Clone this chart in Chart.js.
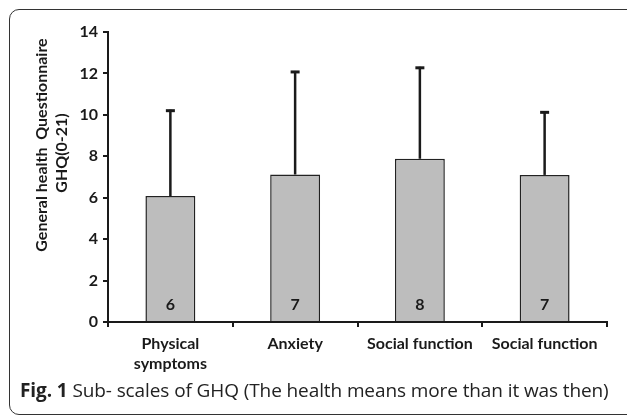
<!DOCTYPE html>
<html>
<head>
<meta charset="utf-8">
<script src="https://cdn.jsdelivr.net/npm/chart.js@4"></script>
<style>
  body { margin:0; width:627px; height:417px; overflow:hidden; background:#fff; }
  #frame { position:absolute; left:9px; top:9px; width:660px; height:404px;
           border:1.5px solid #333; border-radius:10px; }
  #wrap { position:absolute; left:0; top:0; width:627px; height:417px; }
  #cap { position:absolute; left:20px; top:377px; font:19px "Open Sans", sans-serif; color:#222; white-space:nowrap; letter-spacing:-0.1px; }
  #cap b { font-weight:700; }
</style>
</head>
<body>
<div id="frame"></div>
<div id="wrap"><canvas id="ghq"></canvas></div>
<div id="cap"><b>Fig. 1</b> Sub- scales of GHQ (The health means more than it was then)</div>
<script>
// data
var cats = [["Physical","symptoms"], "Anxiety", "Social function", "Social function"];
var means = [6.08, 7.12, 7.88, 7.1];
var sds = [4.17, 5.0, 4.44, 3.07];
var yTicks = [0, 2, 4, 6, 8, 10, 12, 14];
var yTitle = ["General health  Questionnaire", "GHQ(0-21)"];

var ink = '#1a1a1a';
var lblFont = { family: 'Lato, sans-serif', size: 16, weight: 'bold', lineHeight: 1.25 };

// error bars (upper only) + value labels inside bars
var extras = {
  id: 'extras',
  afterDatasetsDraw: function(chart) {
    var ctx = chart.ctx;
    var y = chart.scales.y;
    var meta = chart.getDatasetMeta(0);
    ctx.save();
    ctx.strokeStyle = ink;
    for (var i = 0; i < means.length; i++) {
      var bar = meta.data[i];
      var top = y.getPixelForValue(means[i] + sds[i]);
      ctx.lineWidth = 2.5;
      ctx.beginPath();
      ctx.moveTo(bar.x, bar.y);
      ctx.lineTo(bar.x, top);
      ctx.stroke();
      ctx.lineWidth = 3;
      ctx.beginPath();
      ctx.moveTo(bar.x - 4.5, top + 1);
      ctx.lineTo(bar.x + 4.5, top + 1);
      ctx.stroke();

      ctx.fillStyle = ink;
      ctx.font = 'bold 16px Lato, sans-serif';
      ctx.textAlign = 'center';
      ctx.textBaseline = 'middle';
      ctx.fillText(String(Math.round(means[i])), bar.x, y.getPixelForValue(0) - 17);
    }
    // y axis title, two lines, set a little above the middle like the figure
    var mid = (chart.chartArea.top + chart.chartArea.bottom) / 2;
    ctx.font = 'bold 16px Lato, sans-serif';
    ctx.translate(42, mid - 32);
    ctx.rotate(-Math.PI / 2);
    ctx.fillText(yTitle[0], 0, 0);
    ctx.fillText(yTitle[1], -8, 20);
    ctx.restore();
  }
};

var ghq = document.getElementById('ghq').getContext('2d');
var chart = new Chart(ghq, {
  type: 'bar',
  data: {
    labels: cats,
    datasets: [{
      data: means,
      backgroundColor: '#bdbdbd',
      borderColor: '#222',
      borderWidth: 1.5,
      categoryPercentage: 1,
      barPercentage: 0.4
    }]
  },
  options: {
    responsive: true,
    maintainAspectRatio: false,
    animation: false,
    layout: { padding: { top: 32, right: 20, bottom: 42, left: 0 } },
    plugins: { legend: { display: false }, tooltip: { enabled: false } },
    scales: {
      x: {
        grid: { drawOnChartArea: false, drawTicks: true, tickLength: 5, color: ink, lineWidth: 2 },
        border: { color: ink, width: 2 },
        ticks: { color: ink, font: lblFont, padding: 7, maxRotation: 0 },
        afterFit: function(s) { s.height = 53; }
      },
      y: {
        min: 0, max: 14,
        afterBuildTicks: function(s) { s.ticks = yTicks.map(function(v){ return { value: v }; }); },
        grid: { drawOnChartArea: false, drawTicks: true, tickLength: 5, color: ink, lineWidth: 2 },
        border: { color: ink, width: 2 },
        ticks: { color: ink, font: lblFont, padding: 5 },
        afterFit: function(s) { s.width = 108; }
      }
    }
  },
  plugins: [extras]
});
</script>
</body>
</html>
